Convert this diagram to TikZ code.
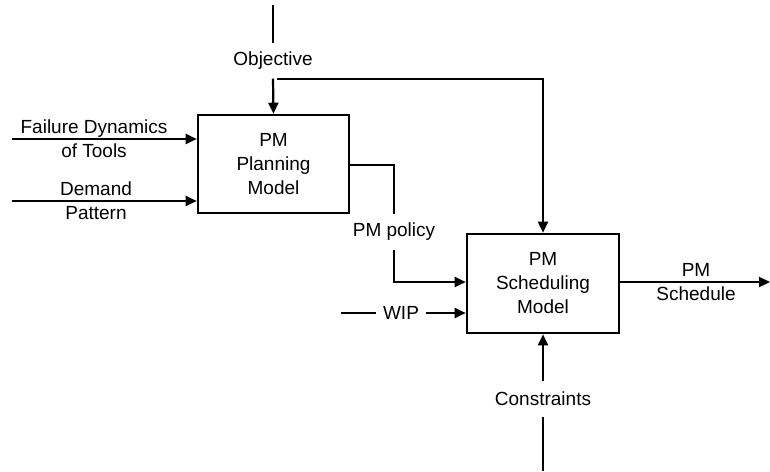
\documentclass[tikz,border=0pt]{standalone}
\usepackage{fontspec}
\setmainfont{Liberation Sans}
\usetikzlibrary{arrows.meta}
\begin{document}
\begin{tikzpicture}[x=1pt,y=-1pt,
  font=\fontsize{19}{24}\selectfont,
  line width=2.2pt,
  arr/.style={-{Triangle[length=11pt,width=10pt]}},
  model/.style={draw,line width=2.6pt,align=center,inner sep=0pt},
  lbl/.style={inner sep=0pt,align=center},
  cut/.style={inner sep=0pt,inner xsep=6pt,minimum height=33pt,align=center}]
\useasboundingbox (0,0) rectangle (770,471);
% boxes
\node[model,minimum width=151pt,minimum height=98pt] (plan) at (273.5,164) {PM\\Planning\\Model};
\node[model,minimum width=152pt,minimum height=99pt] (sched) at (543,283.5) {PM\\Scheduling\\Model};
% objective
\coordinate (objtop) at (273,5);
\node[cut] (obj) at (273,61) {Objective};
\coordinate (objsplit) at (277,79);
\draw (objtop) -- (obj.north);
\draw[arr] (obj.south) -- (plan.north);
\draw[arr] (objsplit) -| (sched.north);
% failure dynamics
\coordinate (fd) at (12,139);
\node[lbl] (fdl) at (94,139) {Failure Dynamics\\of Tools};
\draw[arr] (fd) -- (fd -| plan.west);
% demand
\coordinate (dp) at (12,201);
\node[lbl] (dpl) at (96,201) {Demand\\Pattern};
\draw[arr] (dp) -- (dp -| plan.west);
% PM policy
\coordinate (pp0) at (349,165);
\coordinate (pp1) at (394,165);
\node[cut] (pol) at (394,232) {PM policy};
\coordinate (pp2) at (394,282);
\draw (pp0) -- (pp1) -- (pol.north);
\draw[arr] (pol.south) -- (pp2) -- (pp2 -| sched.west);
% WIP
\coordinate (wip0) at (341,313);
\node[cut] (wip) at (401,313) {WIP};
\draw (wip0) -- (wip.west);
\draw[arr] (wip.east) -- (wip.east -| sched.west);
% output
\coordinate (out) at (770,282);
\node[lbl] (outl) at (696,282) {PM\\Schedule};
\draw[arr] (sched.east |- out) -- (out);
% constraints
\coordinate (cbot) at (543,471);
\node[cut] (con) at (543,399) {Constraints};
\draw (cbot) -- (con.south);
\draw[arr] (con.north) -- (sched.south);
\end{tikzpicture}
\end{document}
